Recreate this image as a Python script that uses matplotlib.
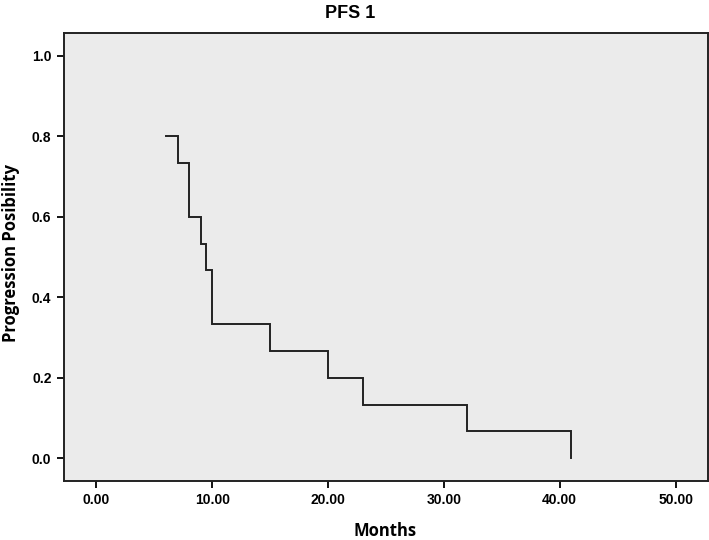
import numpy as np
import matplotlib.pyplot as plt

plt.rcParams['font.family'] = ['Liberation Sans', 'DejaVu Sans']

# step curve: event times and survival values
times = [6.0, 7.0, 8.0, 9.0, 9.5, 10.0, 15.0, 20.0, 23.0, 32.0, 41.0]
surv = [0.800, 0.733, 0.600, 0.533, 0.467, 0.333, 0.267, 0.200, 0.133, 0.067, 0.0]

xticks = [0, 10, 20, 30, 40, 50]
yticks = [0.0, 0.2, 0.4, 0.6, 0.8, 1.0]

fig = plt.figure(figsize=(7.09, 5.40), dpi=100)
ax = fig.add_axes([64 / 709, 1 - 481 / 540, (708 - 64) / 709, (481 - 33) / 540])
ax.set_facecolor('#ebebeb')

# build step path: horizontal then drop at each time
xs = [times[0]]
ys = [surv[0]]
for i in range(1, len(times)):
    xs += [times[i], times[i]]
    ys += [surv[i - 1], surv[i]]
ax.plot(xs, ys, color='#222222', lw=1.4, solid_joinstyle='miter')

ax.set_xlim(-2.8, 52.8)
ax.set_ylim(-0.056, 1.057)
ax.set_xticks(xticks)
ax.set_xticklabels(['%.2f' % t for t in xticks])
ax.set_yticks(yticks)
ax.set_yticklabels(['%.1f' % t for t in yticks])
ax.tick_params(direction='out', length=5, width=1.3, labelsize=10, pad=4)
for lab in ax.get_xticklabels() + ax.get_yticklabels():
    lab.set_fontweight('bold')
for sp in ax.spines.values():
    sp.set_linewidth(1.4)
    sp.set_color('#222222')

ax.set_xlabel('Months', fontsize=12, fontweight='bold', family='Open Sans')
ax.xaxis.set_label_coords((385 - 64) / 644, -(522 - 481) / 448)
ax.set_ylabel('Progression Posibility', fontsize=12, fontweight='bold', family='Open Sans')
ax.yaxis.set_label_coords((20 - 64) / 644, (481 - 253) / 448)
fig.text(350 / 709, 1 - 13 / 540, 'PFS 1', ha='center', va='center',
         fontsize=13, fontweight='bold')

fig.savefig('out.png', dpi=100)
